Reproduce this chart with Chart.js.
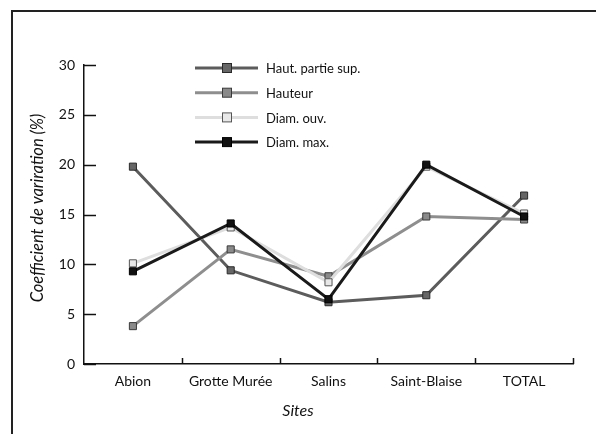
<!DOCTYPE html>
<html lang="fr">
<head>
    <meta charset="UTF-8">
    <title>Coefficient de variration</title>
    <script src="https://cdn.jsdelivr.net/npm/chart.js@4.4.1/dist/chart.umd.min.js"></script>
    <style>
        body {
            margin: 0;
            padding: 0;
            background: #fff;
        }

        #wrap {
            position: relative;
            width: 596px;
            height: 434px;
        }
    </style>
</head>
<body>
<div id="wrap">
    <canvas id="myChart" width="596" height="434"></canvas>
</div>
<script>
    // données
    const sites = ['Abion', 'Grotte Murée', 'Salins', 'Saint-Blaise', 'TOTAL'];
    const hautPartieSup = [19.8, 9.4, 6.2, 6.9, 16.9];
    const hauteur = [3.8, 11.5, 8.8, 14.8, 14.5];
    const diamOuv = [10.1, 13.7, 8.2, 19.8, 15.1];
    const diamMax = [9.3, 14.1, 6.5, 20.0, 14.8];
    const yTicks = [0, 5, 10, 15, 20, 25, 30];

    const FONT = 'Lato, "Open Sans", sans-serif';

    // cadre, ticks intérieurs, légende et titres des axes
    const decor = {
        id: 'decor',
        beforeDraw(chart) {
            const c = chart.ctx;
            c.save();
            c.strokeStyle = '#222';
            c.lineWidth = 2;
            c.beginPath();
            c.moveTo(12, 434);
            c.lineTo(12, 11);
            c.lineTo(596, 11);
            c.stroke();
            c.restore();
        },
        afterDraw(chart) {
            const c = chart.ctx;
            const x = chart.scales.x;
            const y = chart.scales.y;
            const area = chart.chartArea;
            c.save();
            c.strokeStyle = '#111';
            c.lineWidth = 1.5;
            // ticks de l'axe y vers l'intérieur
            yTicks.forEach(v => {
                const py = Math.round(y.getPixelForValue(v)) + 0.5;
                c.beginPath();
                c.moveTo(area.left, py);
                c.lineTo(area.left + 12, py);
                c.stroke();
            });
            // ticks de l'axe x (entre les catégories)
            for (let i = 0; i < sites.length; i++) {
                const px = Math.round(x.getPixelForValue(i) + (x.getPixelForValue(1) - x.getPixelForValue(0)) / 2) + 0.5;
                c.beginPath();
                c.moveTo(px, area.bottom);
                c.lineTo(px, area.bottom - 6);
                c.stroke();
            }

            // légende
            c.font = '13px ' + FONT;
            c.textBaseline = 'middle';
            c.textAlign = 'left';
            chart.data.datasets.forEach((ds, i) => {
                const ly = 68 + i * 24.7;
                c.strokeStyle = ds.borderColor;
                c.lineWidth = 3;
                c.beginPath();
                c.moveTo(195, ly);
                c.lineTo(258, ly);
                c.stroke();
                c.fillStyle = ds.pointBackgroundColor;
                c.strokeStyle = ds.pointBorderColor;
                c.lineWidth = 1;
                c.fillRect(222.5, ly - 4.5, 9, 9);
                c.strokeRect(222.5, ly - 4.5, 9, 9);
                c.fillStyle = '#111';
                c.fillText(ds.label, 266, ly + 1);
            });

            // titres des axes
            c.fillStyle = '#111';
            c.font = 'italic 16px ' + FONT;
            c.textAlign = 'center';
            c.fillText('Sites', 298, 411);
            c.font = 'italic 16.5px ' + FONT;
            c.translate(38, 208);
            c.rotate(-Math.PI / 2);
            c.fillText('Coefficient de variration (%)', 0, 0);
            c.restore();
        }
    };

    function serie(label, data, line, fill, border, order) {
        return {
            label: label,
            data: data,
            borderColor: line,
            borderWidth: 3,
            pointStyle: 'rect',
            pointRadius: 5,
            pointHoverRadius: 5,
            pointBackgroundColor: fill,
            pointBorderColor: border,
            pointBorderWidth: 1,
            tension: 0,
            order: order
        };
    }

    const ctx = document.getElementById('myChart').getContext('2d');
    const myChart = new Chart(ctx, {
        type: 'line',
        data: {
            labels: sites,
            datasets: [
                serie('Haut. partie sup.', hautPartieSup, '#5c5c5c', '#666666', '#2a2a2a', 4),
                serie('Hauteur', hauteur, '#8e8e8e', '#8a8a8a', '#3a3a3a', 3),
                serie('Diam. ouv.', diamOuv, '#dedede', '#e8e8e8', '#555555', 2),
                serie('Diam. max.', diamMax, '#1a1a1a', '#111111', '#000000', 1)
            ]
        },
        plugins: [decor],
        options: {
            responsive: false,
            animation: false,
            layout: {
                padding: {left: 0, top: 65, right: 23, bottom: 0}
            },
            plugins: {
                legend: {display: false},
                tooltip: {enabled: false}
            },
            scales: {
                x: {
                    offset: true,
                    afterFit(scale) { scale.height = 70; },
                    grid: {display: false, drawTicks: false},
                    border: {display: true, color: '#111', width: 1.5},
                    ticks: {color: '#111', padding: 9, font: {family: FONT, size: 14}}
                },
                y: {
                    min: 0,
                    max: 30,
                    afterFit(scale) { scale.width = 84; },
                    afterBuildTicks(scale) { scale.ticks = yTicks.map(v => ({value: v})); },
                    grid: {display: false, drawTicks: false},
                    border: {display: true, color: '#111', width: 1.5},
                    ticks: {color: '#111', padding: 9, font: {family: FONT, size: 14}}
                }
            }
        }
    });
</script>
</body>
</html>
